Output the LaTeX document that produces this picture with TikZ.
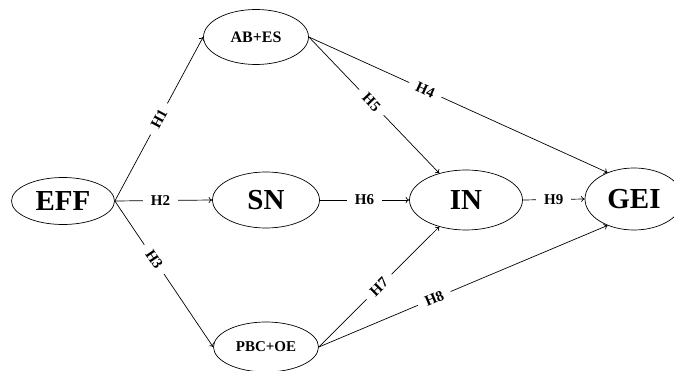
\documentclass[tikz,border=0pt]{standalone}
\usepackage{fontspec}
\setmainfont{Liberation Serif}
\usetikzlibrary{shapes.geometric,arrows.meta}
\tikzset{
  ell/.style={draw,ellipse,line width=0.7pt,inner sep=0pt,font=\bfseries},
  big/.style={ell,font=\fontsize{29}{30}\selectfont\bfseries},
  small/.style={ell,font=\fontsize{16}{17}\selectfont\bfseries},
  conn/.style={line width=0.7pt,-{To[length=3.5pt,width=6pt]}},
  lab/.style={fill=white,inner xsep=8pt,inner ysep=1pt,font=\fontsize{15}{16}\selectfont\bfseries}
}
\begin{document}
\begin{tikzpicture}[x=1pt,y=-1pt]
\useasboundingbox (0,0) rectangle (674,371);
\clip (0,0) rectangle (674,371);
\node[big,minimum width=103pt,minimum height=47pt] (eff) at (63,201) {EFF};
\node[big,minimum width=107pt,minimum height=56pt] (sn) at (266,200) {SN};
\node[big,minimum width=113pt,minimum height=60pt] (in) at (466,200) {IN};
\node[big,minimum width=98pt,minimum height=62pt] (gei) at (634,199) {GEI};
\node[small,minimum width=105pt,minimum height=55pt] (ab) at (256,37) {AB+ES};
\node[small,minimum width=105pt,minimum height=50pt,font=\fontsize{15}{16}\selectfont\bfseries] (pbc) at (266,347) {PBC+OE};
\draw[conn] (eff.east) -- node[lab,sloped,pos=0.5] {H1} (ab.west);
\draw[conn] (eff.east) -- node[lab,pos=0.47] {H2} (sn.west);
\draw[conn] (eff.east) -- node[lab,sloped,pos=0.4] {H3} (pbc.west);
\draw[conn] (ab.east) -- node[lab,sloped,pos=0.39] {H4} (gei.135);
\draw[conn] (ab.east) -- node[lab,sloped,pos=0.48] {H5} (in.135);
\draw[conn] (sn.east) -- node[lab,pos=0.5] {H6} (in.west);
\draw[conn] (pbc.east) -- node[lab,sloped,pos=0.5] {H7} (in.225);
\draw[conn] (pbc.east) -- node[lab,sloped,pos=0.4] {H8} (gei.225);
\draw[conn] (in.east) -- node[lab,pos=0.5] {H9} (gei.west);
\end{tikzpicture}
\end{document}
